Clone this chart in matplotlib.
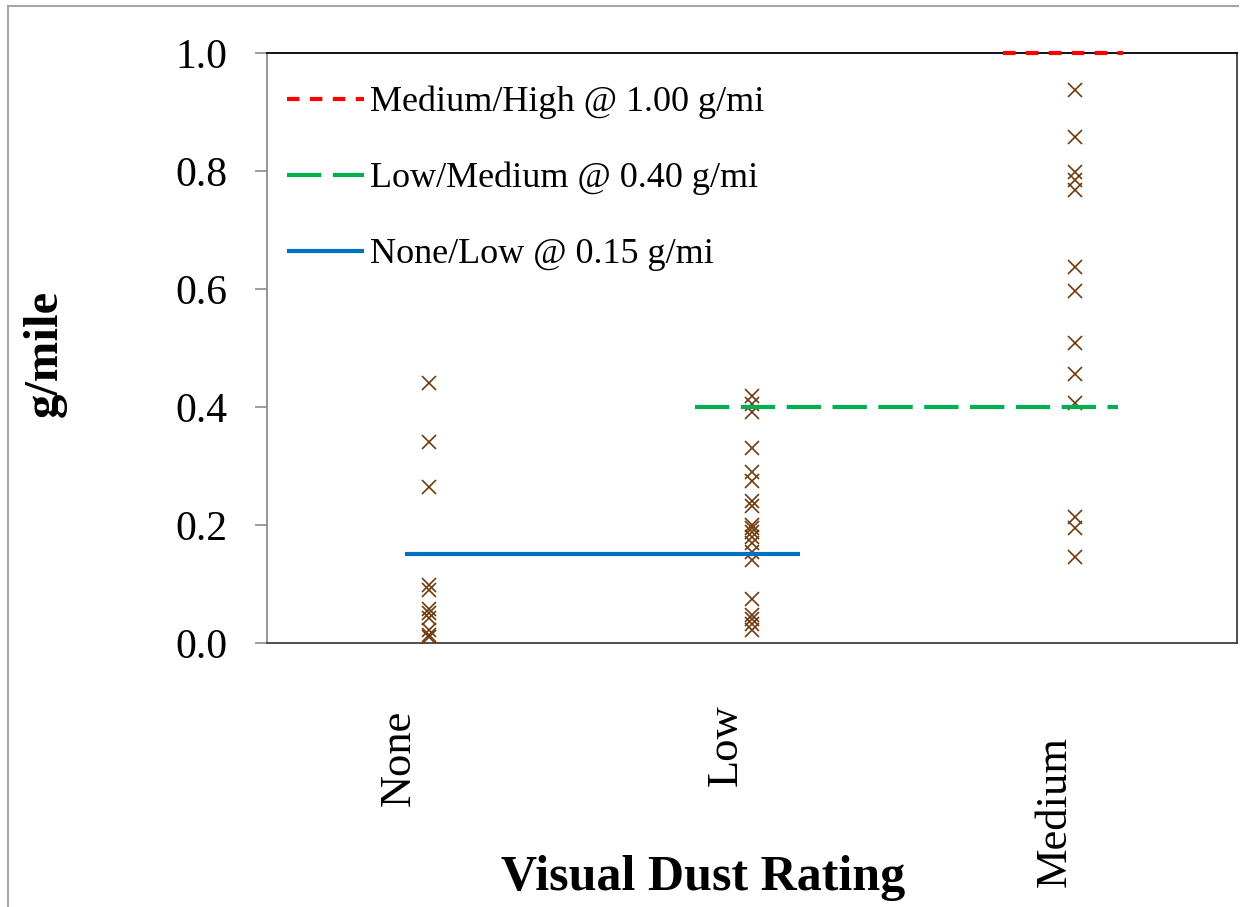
import numpy as np
import matplotlib.pyplot as plt
from matplotlib.lines import Line2D
from matplotlib.transforms import ScaledTranslation

plt.rcParams['font.family'] = ['Liberation Serif', 'DejaVu Serif']

# ---------------------------------------------------------------------------
# measured emissions (g/mile) grouped by visual dust rating
categories = ['None', 'Low', 'Medium']
none_vals = [0.44, 0.34, 0.265, 0.098, 0.090, 0.058, 0.050, 0.042, 0.022, 0.014, 0.010]
low_vals = [0.418, 0.405, 0.392, 0.330, 0.290, 0.275, 0.240, 0.232, 0.200, 0.195,
            0.188, 0.180, 0.170, 0.155, 0.140, 0.075, 0.048, 0.040, 0.032, 0.022]
medium_vals = [0.938, 0.858, 0.798, 0.785, 0.768, 0.637, 0.596, 0.508, 0.456,
               0.406, 0.214, 0.195, 0.145]

# threshold lines: label, value, x extent (category units)
thr_labels = ['Medium/High @ 1.00 g/mi', 'Low/Medium @ 0.40 g/mi', 'None/Low @ 0.15 g/mi']
thr_values = [1.00, 0.40, 0.15]
thr_x0 = [2.276, 1.324, 0.427]
thr_x1 = [2.648, 2.632, 1.649]
thr_colors = ['#ff0000', '#00b050', '#0070c0']
thr_dashes = [(3, 2.5), (8.25, 2.75), None]

# ---------------------------------------------------------------------------
fig = plt.figure(figsize=(12.49, 9.07), dpi=100)
ax = fig.add_axes([0.2138, 0.2911, 0.7766, 0.6505])

groups = [none_vals, low_vals, medium_vals]
for i, vals in enumerate(groups):
    ax.plot([i + 0.5] * len(vals), vals, linestyle='none', marker='x',
            markersize=9.5, markeredgewidth=1.2, color='#713a0e', zorder=3)

for lab, v, a, b, c, d in zip(thr_labels, thr_values, thr_x0, thr_x1, thr_colors, thr_dashes):
    ln, = ax.plot([a, b], [v, v], color=c, lw=3, label=lab, clip_on=False,
                  solid_capstyle='butt', dash_capstyle='butt', zorder=4)
    if d is not None:
        ln.set_dashes(d)

ax.set_xlim(0, 3)
ax.set_ylim(0, 1.0)
ax.set_yticks(np.arange(0, 1.01, 0.2))
ax.set_yticklabels(['%.1f' % t for t in np.arange(0, 1.01, 0.2)], fontsize=30)
ax.set_xticks([0.5, 1.5, 2.5])
ax.set_xticklabels(categories, fontsize=32, rotation=90, va='top')
ax.tick_params(axis='y', length=8.6, width=1.2, color='#8c8c8c', pad=20)
ax.tick_params(axis='x', length=0, pad=48)

# nudge the rotated category labels
offsets = [(-30, 0), (-26, 5), (-21, -26)]
for tl, (dx, dy) in zip(ax.get_xticklabels(), offsets):
    tl.set_transform(tl.get_transform() + ScaledTranslation(dx / 100, dy / 100, fig.dpi_scale_trans))

ax.spines['left'].set_color('#8c8c8c')
ax.spines['top'].set_color('black')
ax.spines['right'].set_color('#404040')
ax.spines['bottom'].set_color('#404040')
for s in ax.spines.values():
    s.set_linewidth(1.3)

ax.set_ylabel('g/mile', fontsize=35, fontweight='bold')
ax.yaxis.set_label_coords(-0.229, 0.49)
ax.yaxis.label.set_va('center')
ax.set_xlabel('Visual Dust Rating', fontsize=36, fontweight='bold')
ax.xaxis.set_label_coords(0.4495, -0.398)
ax.xaxis.label.set_va('center')

ax.legend(loc='upper left', bbox_to_anchor=(0.0, 0.978), frameon=False, fontsize=26,
          handlelength=2.13, handletextpad=0.17, labelspacing=1.18, borderaxespad=0.15)

# light chart-area border
fig.add_artist(Line2D([8 / 1249, 1238 / 1249], [1 - 6 / 907, 1 - 6 / 907],
                      transform=fig.transFigure, color='#a6a6a6', lw=1.5))
fig.add_artist(Line2D([8 / 1249, 8 / 1249], [0, 1 - 6 / 907],
                      transform=fig.transFigure, color='#a6a6a6', lw=1.5))

fig.savefig('out.png', dpi=100)
